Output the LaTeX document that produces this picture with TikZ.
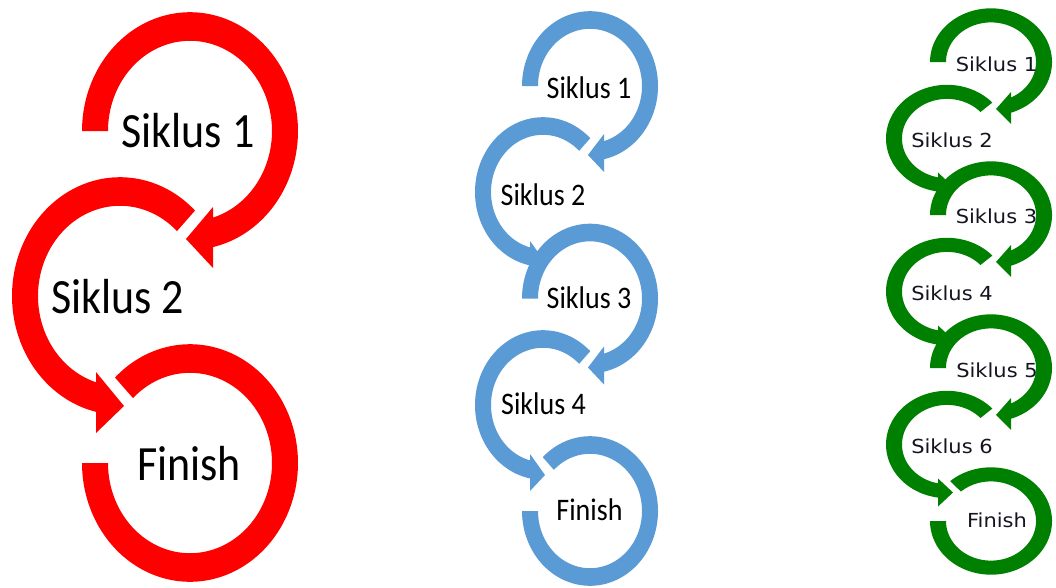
\documentclass[tikz,border=0pt]{standalone}
\usepackage{fontspec}
\newfontfamily\carlito{Carlito}
\newfontfamily\dejavu{DejaVu Sans}
\definecolor{cred}{HTML}{FF0000}
\definecolor{cblue}{HTML}{5B9BD5}
\definecolor{cgreen}{HTML}{008000}
\definecolor{gtext}{HTML}{15151F}
% ring geometry: outer radius, inner radius, vertical factor
\newcommand{\setring}[3]{\def\rRo{#1}\def\rRi{#2}\def\rK{#3}}
% arrow head: base x offset, tip x offset, tip y, inner wing y, outer wing y
\newcommand{\sethead}[5]{\def\hB{#1}\def\hT{#2}\def\hTy{#3}\def\hWa{#4}\def\hWb{#5}}
% circular arrow: colour, cx, cy, start angle, angle offset (360 clockwise, 0 counter-clockwise)
\newcommand{\arrowring}[5]{%
  \pgfmathsetmacro\aO{#5+acos(\hB/\rRo)}%
  \pgfmathsetmacro\aI{#5+acos(\hB/\rRi)}%
  \fill[#1] plot[domain=#4:\aO,samples=120,variable=\t] ({#2+\rRo*cos(\t)},{#3+\rK*\rRo*sin(\t)})
    -- ({#2+\hB},{#3+\hWb}) -- ({#2+\hT},{#3+\hTy}) -- ({#2+\hB},{#3+\hWa})
    -- plot[domain=\aI:#4,samples=120,variable=\t] ({#2+\rRi*cos(\t)},{#3+\rK*\rRi*sin(\t)}) -- cycle;}
% open ring without head: colour, cx, cy, start, end
\newcommand{\finring}[5]{%
  \fill[#1] plot[domain=#4:#5,samples=160,variable=\t] ({#2+\rRo*cos(\t)},{#3+\rK*\rRo*sin(\t)})
    -- plot[domain=#5:#4,samples=160,variable=\t] ({#2+\rRi*cos(\t)},{#3+\rK*\rRi*sin(\t)}) -- cycle;}
\tikzset{
  redlbl/.style={anchor=base,inner sep=0pt,yscale=1.12,font=\carlito\fontsize{44}{50}\selectfont,text=black},
  bluelbl/.style={anchor=base,inner sep=0pt,yscale=1.12,font=\carlito\fontsize{28}{32}\selectfont,text=black},
  greenlbl/.style={anchor=base,inner sep=0pt,yscale=0.92,font=\dejavu\fontsize{21}{24}\selectfont,text=gtext}
}
\begin{document}
\begin{tikzpicture}[x=1pt,y=-1pt]
\fill[white] (0,0) rectangle (1056,587);
\useasboundingbox (0,0) rectangle (1056,587);

% ---------------- red chain ----------------
\setring{108}{82}{1.1}
\sethead{23}{-4}{108}{76}{137}
\arrowring{cred}{190}{131}{180}{360}
\sethead{-24}{4}{110}{76}{137}
\arrowring{cred}{120}{296}{314}{0}
\finring{cred}{190}{463}{226}{540}
\node[redlbl] (r1) at (188,147) {Siklus 1};
\node[redlbl] (r2) at (117.5,313) {Siklus 2};
\node[redlbl] (rf) at (189,480) {Finish};

% ---------------- blue chain ----------------
\setring{68}{52}{1.1}
\sethead{14}{-2}{69}{48}{86}
\arrowring{cblue}{590}{86}{180}{360}
\arrowring{cblue}{590}{298.5}{180}{360}
\sethead{-13}{2}{70}{49}{86}
\arrowring{cblue}{543}{192}{314}{0}
\arrowring{cblue}{543}{405}{314}{0}
\finring{cblue}{590}{511}{226}{540}
\node[bluelbl] (b1) at (589,98) {Siklus 1};
\node[bluelbl] (b2) at (543,205) {Siklus 2};
\node[bluelbl] (b3) at (589,308) {Siklus 3};
\node[bluelbl] (b4) at (543.5,414) {Siklus 4};
\node[bluelbl] (bf) at (589.5,520) {Finish};

% ---------------- green chain ----------------
\setring{61}{45}{0.88}
\sethead{20}{5}{47}{30}{62}
\arrowring{cgreen}{991}{62}{180}{360}
\arrowring{cgreen}{991}{215}{180}{360}
\arrowring{cgreen}{991}{368}{180}{360}
\sethead{-9}{6}{48}{34}{62}
\arrowring{cgreen}{947}{138.5}{318}{0}
\arrowring{cgreen}{947}{291.5}{318}{0}
\arrowring{cgreen}{947}{444.5}{318}{0}
\finring{cgreen}{991}{521}{228}{540}
\node[greenlbl] (g1) at (996.5,71) {Siklus 1};
\node[greenlbl] (g2) at (952,147) {Siklus 2};
\node[greenlbl] (g3) at (996.5,223) {Siklus 3};
\node[greenlbl] (g4) at (952,300) {Siklus 4};
\node[greenlbl] (g5) at (997,377) {Siklus 5};
\node[greenlbl] (g6) at (952,453) {Siklus 6};
\node[greenlbl] (gf) at (997,527) {Finish};
\end{tikzpicture}
\end{document}
